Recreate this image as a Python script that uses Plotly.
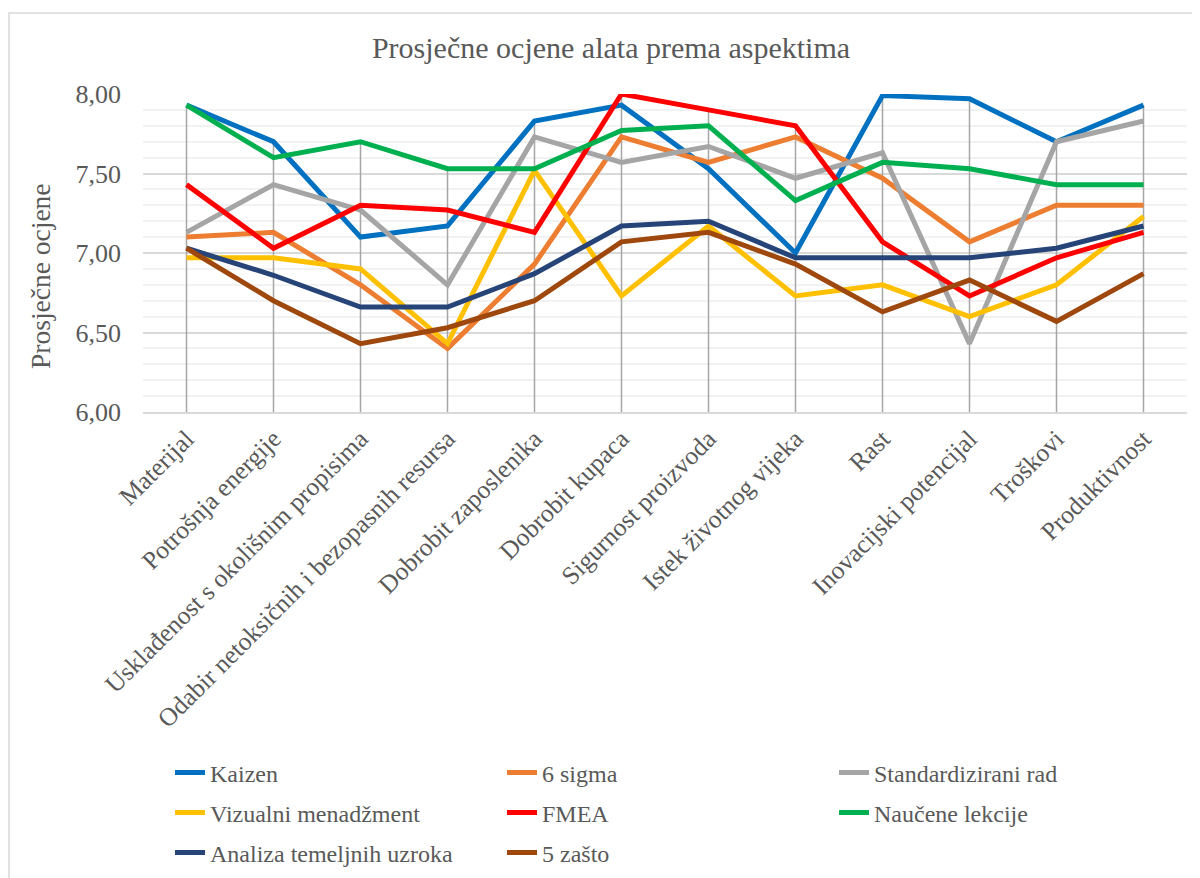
import plotly.graph_objects as go


# ==========================================================
# DATA
# ==========================================================

aspects = [
    "Materijal", "Potrošnja energije", "Usklađenost s okolišnim propisima",
    "Odabir netoksičnih i bezopasnih resursa", "Dobrobit zaposlenika",
    "Dobrobit kupaca", "Sigurnost proizvoda", "Istek životnog vijeka",
    "Rast", "Inovacijski potencijal", "Troškovi", "Produktivnost",
]

kaizen = [7.93, 7.70, 7.10, 7.17, 7.83, 7.93, 7.53, 7.00, 7.99, 7.97, 7.70, 7.93]
six_sigma = [7.10, 7.13, 6.80, 6.40, 6.93, 7.73, 7.57, 7.73, 7.47, 7.07, 7.30, 7.30]
standard_work = [7.13, 7.43, 7.27, 6.80, 7.73, 7.57, 7.67, 7.47, 7.63, 6.43, 7.70, 7.83]
visual_mgmt = [6.97, 6.97, 6.90, 6.43, 7.52, 6.73, 7.17, 6.73, 6.80, 6.60, 6.80, 7.23]
fmea = [7.43, 7.03, 7.30, 7.27, 7.13, 8.00, 7.90, 7.80, 7.07, 6.73, 6.97, 7.13]
lessons = [7.93, 7.60, 7.70, 7.53, 7.53, 7.77, 7.80, 7.33, 7.57, 7.53, 7.43, 7.43]
root_cause = [7.03, 6.86, 6.66, 6.66, 6.87, 7.17, 7.20, 6.97, 6.97, 6.97, 7.03, 7.17]
five_why = [7.03, 6.70, 6.43, 6.53, 6.70, 7.07, 7.13, 6.93, 6.63, 6.83, 6.57, 6.87]

# (name, values, colour, legend row)
series = [
    ("Kaizen", kaizen, "#0070C0", "legend"),
    ("6 sigma", six_sigma, "#ED7D31", "legend"),
    ("Standardizirani rad", standard_work, "#A5A5A5", "legend"),
    ("Vizualni menadžment", visual_mgmt, "#FFC000", "legend2"),
    ("FMEA", fmea, "#FF0000", "legend2"),
    ("Naučene lekcije", lessons, "#00B050", "legend2"),
    ("Analiza temeljnih uzroka", root_cause, "#264478", "legend3"),
    ("5 zašto", five_why, "#9E480E", "legend3"),
]

FONT = "Liberation Serif"
TEXT = "#595959"

W, H = 1200, 878
# the page body adds an 8px margin, so screen positions are shifted by 8
OFF = 8
PLOT_L, PLOT_R, PLOT_T, PLOT_B = 143, 1187, 94, 412  # screen pixels
L = PLOT_L - OFF
R = W - (PLOT_R - OFF)
T = PLOT_T - OFF
B = H - (PLOT_B - OFF)


def px_to_paper_y(py):
    return (PLOT_B - py) / (PLOT_B - PLOT_T)


def px_to_paper_x(px):
    return (px - PLOT_L) / (PLOT_R - PLOT_L)


fig = go.Figure()

# Excel style drop lines: from the axis up to the highest value per category
tops = [max(vals) for vals in zip(*[s[1] for s in series])]
drop_x, drop_y = [], []
for cat, top in zip(aspects, tops):
    drop_x += [cat, cat, None]
    drop_y += [6, top, None]

fig.add_trace(go.Scatter(
    x=drop_x, y=drop_y, mode="lines",
    line=dict(color="#A6A6A6", width=1.5),
    showlegend=False, hoverinfo="skip",
))

for name, vals, color, leg in series:
    fig.add_trace(go.Scatter(
        x=aspects, y=vals, name=name, mode="lines",
        line=dict(color=color, width=5),
        legend=leg,
    ))


# ==========================================================
# LAYOUT
# ==========================================================

def legend_row(py):
    # one horizontal legend per row, so the rows sit exactly where Excel put them
    return dict(
        orientation="h",
        x=px_to_paper_x(170),
        xanchor="left",
        y=px_to_paper_y(py),
        yanchor="middle",
        entrywidth=287,
        entrywidthmode="pixels",
        font=dict(family=FONT, size=24, color=TEXT),
        bgcolor="rgba(0,0,0,0)",
        itemclick=False,
    )


fig.update_layout(
    width=W,
    height=H,
    paper_bgcolor="white",
    plot_bgcolor="white",
    separators=", ",
    margin=dict(l=L, r=R, t=T, b=B, autoexpand=False),
    font=dict(family=FONT, color=TEXT),
    title=dict(
        text="Prosječne ocjene alata prema aspektima",
        x=px_to_paper_x(611), xref="paper", xanchor="center",
        y=1 - (47 - OFF) / H, yanchor="middle",
        font=dict(family=FONT, size=30, color=TEXT),
    ),
    legend=legend_row(773),
    legend2=legend_row(813),
    legend3=legend_row(853),
    annotations=[dict(
        text="Prosječne ocjene",
        xref="paper", yref="paper",
        x=px_to_paper_x(40), y=px_to_paper_y(276),
        xanchor="center", yanchor="middle",
        textangle=-90, showarrow=False,
        font=dict(family=FONT, size=27.5, color=TEXT),
    )],
    shapes=[dict(
        type="rect", xref="paper", yref="paper",
        x0=px_to_paper_x(OFF + 1), x1=px_to_paper_x(1197),
        y0=px_to_paper_y(900), y1=px_to_paper_y(13),
        line=dict(color="#D9D9D9", width=1.5),
        fillcolor="rgba(0,0,0,0)", layer="above",
    )],
)

fig.update_xaxes(
    type="category",
    range=[-0.5, len(aspects) - 0.5],
    automargin=False,
    showgrid=False,
    showline=True,
    linecolor="#D9D9D9",
    linewidth=1.5,
    ticks="",
    tickangle=-45,
    tickfont=dict(family=FONT, size=25.5, color=TEXT),
)

fig.update_yaxes(
    range=[6, 8],
    dtick=0.5,
    tickformat=".2f",
    automargin=False,
    showgrid=True,
    gridcolor="#D9D9D9",
    gridwidth=1.5,
    zeroline=False,
    showline=False,
    ticks="",
    ticklabelstandoff=21,
    tickfont=dict(family=FONT, size=26, color=TEXT),
    minor=dict(dtick=0.1, showgrid=True, gridcolor="#F2F2F2", gridwidth=1.5),
)

fig.write_html("out.html")
